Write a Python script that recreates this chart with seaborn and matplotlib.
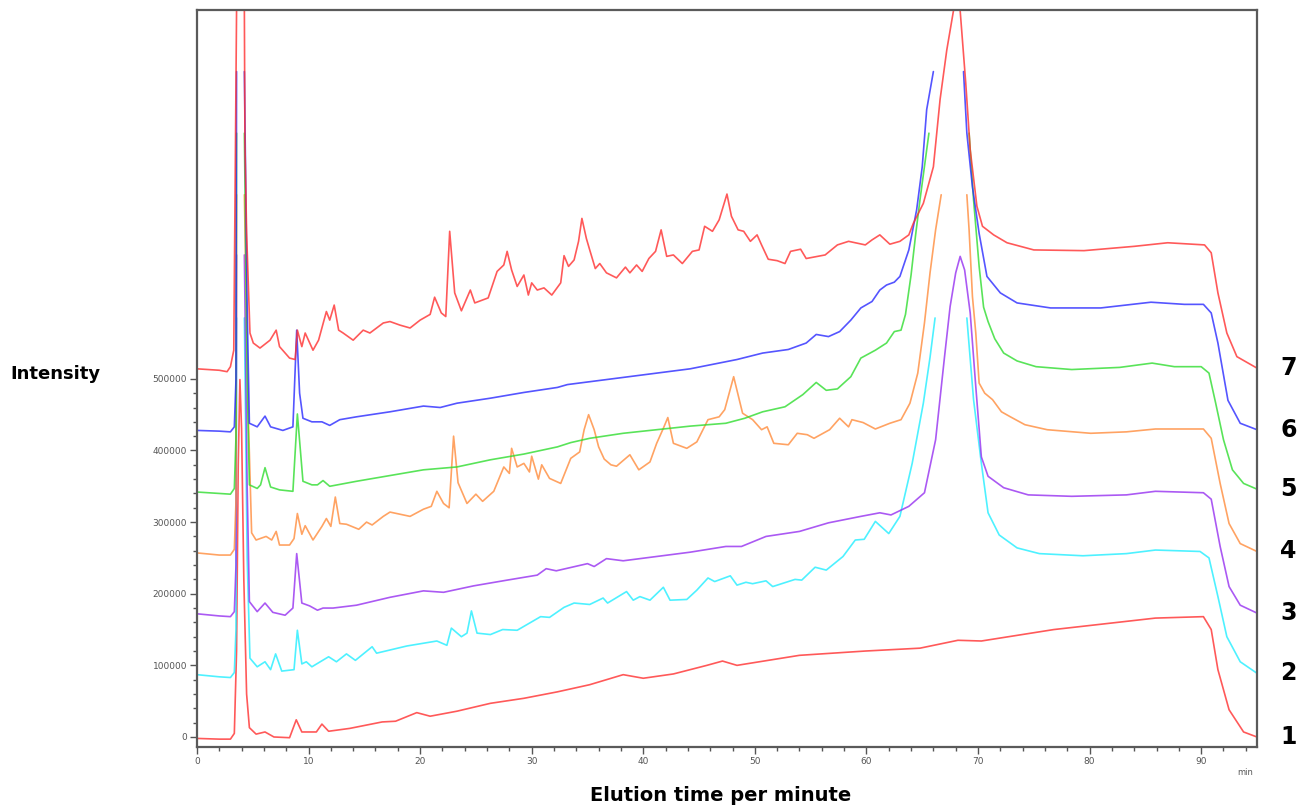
import numpy as np
import pandas as pd
import matplotlib
matplotlib.use("Agg")
import matplotlib.pyplot as plt
import seaborn as sns
from matplotlib.ticker import MultipleLocator, FixedLocator

# elution time (min) and intensity for each run; None = gap where the detector saturated
time_1 = [0, 2.0, 3.0, 3.35, 3.55, 3.7, 3.85, 4.0, 4.2, 4.45,
          4.7, 5.3, 6.1, 6.9, 8.3, 8.9, 9.4, 10.7, 11.2, 11.8,
          13.7, 16.6, 17.8, 19.7, 20.9, 23.3, 26.3, 29.3, 32.3, 35.2,
          36.7, 38.2, 40.0, 42.7, 45.7, 47.1, 48.4, 54.0, 59.9, 64.8,
          68.2, 70.3, 76.8, 85.9, 90.2, 90.9, 91.5, 92.5, 93.8, 95.0]
intensity_1 = [-2000, -3000, -3000, 5000, 120000, 380000, 499000, 430000, 220000, 60000,
               13000, 4000, 7000, 0, -1000, 24000, 7000, 7000, 18000, 8000,
               12000, 21000, 22000, 34000, 29000, 36000, 47000, 54000, 63000, 73000,
               80000, 87000, 82000, 88000, 100000, 106000, 100000, 114000, 120000, 124000,
               135000, 134000, 150000, 166000, 168000, 150000, 94000, 38000, 7000, 0]

time_2 = [0, 2.0, 3.0, 3.35, 3.5, 3.55, None, 4.25, 4.5, 4.75, 5.4, 6.1, 6.6, 7.05, 7.6,
          8.7, 9.0, 9.4, 9.8, 10.3, 11.8, 12.5, 13.4, 14.2, 15.7, 16.1, 18.8, 21.5, 22.4,
          22.8, 23.7, 24.2, 24.6, 25.1, 26.3, 27.4, 28.7, 30.8, 31.6, 32.9, 33.8, 35.2,
          36.4, 36.8, 38.5, 39.1, 39.7, 40.6, 41.8, 42.4, 43.9, 44.8, 45.8, 46.4, 47.8,
          48.4, 49.2, 49.8, 51.0, 51.6, 53.6, 54.2, 55.4, 56.4, 57.9, 59.0, 59.8, 60.8,
          62.0, 63.0, 64.1, 65.1, 65.7, 66.15, None,
          69.0, 69.6, 70.3, 70.9, 71.9, 73.5, 75.5, 79.4, 83.3, 85.9, 89.9, 90.7, 91.5,
          92.3, 93.5, 95.0]
intensity_2 = [87000, 84000, 83000, 90000, 150000, 585000, None, 585000, 250000, 110000, 98000, 105000, 94000, 116000, 92000,
               94000, 149000, 102000, 105000, 98000, 112000, 105000, 116000, 107000, 126000, 117000, 127000, 134000, 128000,
               152000, 140000, 145000, 176000, 145000, 143000, 150000, 149000, 168000, 167000, 181000, 187000, 185000,
               194000, 187000, 203000, 191000, 196000, 191000, 209000, 191000, 192000, 205000, 222000, 217000, 225000,
               212000, 216000, 214000, 218000, 210000, 220000, 219000, 237000, 233000, 252000, 275000, 276000, 301000,
               284000, 308000, 382000, 466000, 530000, 585000, None,
               585000, 471000, 382000, 313000, 282000, 264000, 256000, 253000, 256000, 261000, 259000, 250000, 196000,
               140000, 105000, 89000]

time_3 = [0, 2.0, 3.0, 3.35, 3.5, 3.55, None, 4.25, 4.5, 4.7, 5.4, 6.1, 6.8, 7.9, 8.6,
          8.94, 9.4, 10.1, 10.8, 11.3, 12.2, 14.3, 17.3, 20.3, 22.1, 24.8, 27.8, 30.5,
          31.3, 32.2, 35.0, 35.6, 36.7, 38.2, 41.2, 44.2, 47.4, 48.8, 51.0, 54.0, 56.6,
          59.5, 61.2, 62.2, 63.8, 65.2, 66.2, 67.0, 67.5, 68.0, 68.4, 68.8, 69.3, 69.8,
          70.3, 70.9, 72.3, 74.5, 78.4, 83.3, 85.9, 90.2, 90.9, 91.7, 92.5, 93.5, 95.0]
intensity_3 = [172000, 169000, 168000, 175000, 240000, 673000, None, 673000, 350000, 189000, 175000, 187000, 174000, 170000, 180000,
               256000, 187000, 183000, 177000, 180000, 180000, 184000, 195000, 204000, 202000, 211000, 219000, 226000,
               235000, 232000, 242000, 238000, 249000, 246000, 252000, 258000, 266000, 266000, 280000, 287000, 299000,
               308000, 313000, 310000, 322000, 341000, 415000, 531000, 601000, 648000, 671000, 652000, 592000, 489000,
               391000, 364000, 348000, 338000, 336000, 338000, 343000, 341000, 332000, 266000, 210000, 184000, 173000]

time_4 = [0, 2.0, 3.0, 3.35, 3.5, 3.55, None, 4.25, 4.6, 4.9, 5.3, 6.2, 6.7, 7.1, 7.4,
          8.3, 8.7, 9.0, 9.4, 9.7, 10.4, 11.2, 11.6, 12.0, 12.4, 12.8, 13.4, 14.5, 15.2,
          15.7, 16.7, 17.3, 17.9, 19.1, 20.3, 21.0, 21.5, 22.1, 22.6, 23.0, 23.4, 24.2,
          25.0, 25.6, 26.6, 27.5, 28.0, 28.2, 28.7, 29.3, 29.8, 30.0, 30.6, 30.9, 31.6,
          32.6, 33.5, 34.3, 34.7, 35.1, 35.6, 36.0, 36.5, 37.1, 37.6, 38.8, 39.6, 40.6,
          41.2, 41.8, 42.2, 42.7, 43.9, 44.8, 45.8, 46.8, 47.3, 48.1, 48.9, 49.8, 50.6,
          51.1, 51.7, 53.0, 53.8, 54.7, 55.3, 56.7, 57.6, 58.4, 58.7, 59.7, 60.8, 62.1,
          63.1, 63.9, 64.6, 65.2, 65.7, 66.2, 66.7, None,
          69.0, 69.2, 69.5, 69.8, 70.1, 70.6, 71.3, 72.1, 72.9, 74.2, 76.2, 80.1, 83.3,
          85.9, 90.2, 90.9, 91.7, 92.5, 93.5, 95.0]
intensity_4 = [257000, 254000, 254000, 262000, 330000, 757000, None, 757000, 450000, 285000, 275000, 280000, 275000, 287000, 268000,
               268000, 277000, 312000, 283000, 295000, 275000, 294000, 305000, 294000, 335000, 298000, 297000, 290000, 300000,
               296000, 308000, 314000, 312000, 308000, 318000, 322000, 343000, 326000, 320000, 420000, 355000, 326000,
               339000, 329000, 343000, 377000, 368000, 403000, 377000, 382000, 370000, 392000, 360000, 380000, 361000,
               354000, 389000, 398000, 429000, 450000, 429000, 405000, 388000, 380000, 378000, 394000, 373000, 384000,
               410000, 431000, 446000, 410000, 403000, 412000, 443000, 447000, 457000, 503000, 452000, 443000, 429000,
               433000, 410000, 408000, 424000, 422000, 417000, 429000, 445000, 433000, 443000, 439000, 430000, 438000,
               443000, 466000, 508000, 578000, 648000, 708000, 757000, None,
               757000, 708000, 615000, 564000, 494000, 480000, 471000, 454000, 447000, 436000, 429000, 424000, 426000,
               430000, 430000, 417000, 354000, 298000, 270000, 259000]

time_5 = [0, 2.0, 3.0, 3.35, 3.5, 3.55, None, 4.25, 4.5, 4.7, 5.4, 5.7, 6.1, 6.6, 7.4,
          8.6, 9.0, 9.5, 10.3, 10.8, 11.3, 11.9, 14.3, 17.3, 20.3, 23.3, 26.3, 29.3, 32.3,
          33.5, 35.2, 38.2, 41.2, 44.2, 47.4, 49.1, 50.7, 52.7, 54.3, 55.5, 56.4, 57.4,
          58.6, 59.5, 60.8, 61.8, 62.5, 63.1, 63.5, 64.0, 64.4, 64.8, 65.6, None,
          69.2, 69.6, 70.1, 70.5, 70.9, 71.5, 72.3, 73.5, 75.2, 78.4, 82.7, 85.6, 87.6,
          90.0, 90.7, 91.3, 92.0, 92.8, 93.8, 95.0]
intensity_5 = [342000, 340000, 339000, 347000, 420000, 843000, None, 843000, 500000, 352000, 347000, 352000, 376000, 349000, 345000,
               343000, 451000, 357000, 352000, 352000, 358000, 350000, 357000, 365000, 373000, 377000, 387000, 395000, 405000,
               411000, 417000, 424000, 429000, 434000, 438000, 445000, 454000, 461000, 478000, 495000, 484000, 486000,
               503000, 529000, 540000, 550000, 566000, 568000, 590000, 645000, 700000, 750000, 843000, None,
               843000, 750000, 657000, 600000, 580000, 556000, 536000, 525000, 517000, 513000, 516000, 522000, 517000,
               517000, 508000, 466000, 415000, 373000, 354000, 346000]

time_6 = [0, 2.0, 3.0, 3.35, 3.5, 3.55, None, 4.25, 4.5, 4.7, 5.4, 6.1, 6.6, 7.7, 8.6,
          8.94, 9.2, 9.5, 10.3, 11.2, 11.9, 12.8, 14.3, 17.3, 20.3, 21.8, 23.3, 26.3,
          29.3, 32.3, 33.2, 35.2, 38.2, 41.2, 44.2, 48.4, 50.7, 53.0, 54.6, 55.5, 56.6,
          57.6, 58.6, 59.5, 60.5, 61.2, 61.8, 62.5, 63.0, 63.8, 64.5, 65.0, 65.4, 66.0, None,
          68.7, 69.0, 69.5, 70.1, 70.8, 72.0, 73.5, 76.5, 81.0, 85.5, 88.5, 90.2, 90.9,
          91.5, 92.4, 93.5, 95.0]
intensity_6 = [428000, 427000, 426000, 433000, 500000, 929000, None, 929000, 600000, 438000, 433000, 448000, 433000, 428000, 433000,
               568000, 480000, 445000, 440000, 440000, 435000, 443000, 447000, 454000, 462000, 460000, 466000, 473000,
               481000, 488000, 492000, 496000, 502000, 508000, 514000, 527000, 536000, 541000, 550000, 562000, 559000,
               566000, 582000, 599000, 608000, 624000, 631000, 635000, 643000, 680000, 736000, 796000, 876000, 929000, None,
               929000, 843000, 768000, 703000, 643000, 620000, 606000, 599000, 599000, 607000, 604000, 604000, 592000,
               550000, 470000, 438000, 429000]

time_7 = [0, 2.0, 2.7, 3.0, 3.3, 3.55, None, 4.25, 4.3, 4.45, 4.75, 5.05, 5.65, 6.55, 7.1,
          7.4, 8.3, 8.8, 9.0, 9.4, 9.7, 10.4, 10.9, 11.6, 11.9, 12.3, 12.7, 13.1, 14.0,
          14.9, 15.5, 16.7, 17.3, 18.2, 19.1, 20.0, 20.9, 21.3, 21.9, 22.3, 22.65, 23.1,
          23.7, 24.5, 24.9, 26.1, 26.9, 27.5, 27.8, 28.2, 28.7, 29.3, 29.7, 30.0, 30.5,
          31.1, 31.8, 32.6, 32.9, 33.3, 33.8, 34.2, 34.5, 34.9, 35.2, 35.7, 36.1, 36.7,
          37.6, 38.4, 38.8, 39.4, 39.9, 40.5, 41.1, 41.6, 42.1, 42.7, 43.5, 44.4, 45.0,
          45.5, 46.2, 46.8, 47.5, 47.9, 48.5, 49.0, 49.6, 50.2, 50.6, 51.2, 52.0, 52.7,
          53.2, 54.1, 54.6, 56.3, 57.4, 58.4, 59.9, 60.5, 61.2, 62.1, 63.0, 63.8, 64.2,
          65.1, 66.0, 66.6, 67.2, 67.8, None,
          68.4, 68.9, 69.3, 69.9, 70.4, 71.4, 72.6, 75.0, 79.5, 84.0, 87.0, 90.3, 90.9,
          91.5, 92.3, 93.2, 95.0]
intensity_7 = [514000, 512000, 510000, 517000, 540000, 1014000, None, 1014000, 830000, 704000, 564000, 550000, 543000, 554000, 568000,
               545000, 529000, 527000, 568000, 545000, 564000, 540000, 554000, 594000, 582000, 603000, 568000, 564000, 554000,
               568000, 564000, 578000, 580000, 575000, 571000, 582000, 590000, 614000, 592000, 587000, 706000, 620000,
               595000, 624000, 606000, 613000, 650000, 659000, 678000, 652000, 629000, 645000, 617000, 634000, 624000,
               627000, 617000, 634000, 672000, 657000, 666000, 692000, 724000, 696000, 680000, 654000, 661000, 648000,
               641000, 656000, 648000, 659000, 650000, 668000, 678000, 708000, 671000, 673000, 661000, 678000, 680000,
               713000, 706000, 722000, 758000, 727000, 708000, 706000, 692000, 701000, 687000, 667000, 665000, 661000,
               678000, 681000, 668000, 673000, 687000, 692000, 687000, 694000, 701000, 688000, 692000, 701000, 717000,
               745000, 796000, 890000, 959000, 1014000, None,
               1014000, 913000, 820000, 741000, 713000, 701000, 690000, 680000, 679000, 685000, 690000, 687000, 676000,
               620000, 564000, 531000, 515000]

trace_names = ["1", "2", "3", "4", "5", "6", "7"]
trace_colors = ["#ff3030", "#22eeff", "#9630f0", "#ff8c3c", "#30dd30", "#2a2aff", "#ff3030"]
all_times = [time_1, time_2, time_3, time_4, time_5, time_6, time_7]
all_values = [intensity_1, intensity_2, intensity_3, intensity_4, intensity_5, intensity_6, intensity_7]


def to_frame(name, times, values):
    rows = []
    seg = 0
    for t, v in zip(times, values, strict=True):
        if t is None:
            seg += 1
            continue
        rows.append((name, seg, t, v))
    return pd.DataFrame(rows, columns=["trace", "segment", "time", "intensity"])


df = pd.concat([to_frame(n, t, v) for n, t, v in zip(trace_names, all_times, all_values)],
               ignore_index=True)

sns.set_style("white")
plt.rcParams["font.family"] = ["DejaVu Sans"]

fig = plt.figure(figsize=(13, 8.11), dpi=100)
ax = fig.add_axes([0.1515, 0.0789, 0.8154, 0.9088])

sns.lineplot(data=df, x="time", y="intensity", hue="trace", units="segment",
             estimator=None, sort=False, palette=dict(zip(trace_names, trace_colors)),
             linewidth=1.2, alpha=0.8, legend=False, ax=ax)

ax.set_xlim(0, 95)
ax.set_ylim(-14000, 1015000)
ax.set_xlabel("")
ax.set_ylabel("")

ax.xaxis.set_major_locator(MultipleLocator(10))
ax.xaxis.set_minor_locator(MultipleLocator(2))
ax.yaxis.set_major_locator(FixedLocator(np.arange(0, 500001, 100000)))
ax.yaxis.set_minor_locator(FixedLocator(np.arange(0, 500001, 20000)))
ax.tick_params(axis="both", which="major", direction="out", length=5, width=1,
               color="#555555", labelsize=6.5, labelcolor="#555555", pad=2)
ax.tick_params(axis="both", which="minor", direction="out", length=3, width=1,
               color="#555555")
ax.tick_params(bottom=True, left=True, top=False, right=False)
ax.tick_params(which="minor", bottom=True, left=True, top=False, right=False)

for side, sp in ax.spines.items():
    sp.set_visible(True)
    sp.set_color("#5a5a5a")
    sp.set_linewidth(1.6)

# run numbers at the right end of each trace
for name, vals in zip(trace_names, all_values):
    ax.text(1.022, vals[-1], name, transform=ax.get_yaxis_transform(),
            fontsize=17, fontweight="heavy", va="center", ha="left", color="black")

fig.text(0.008, 0.539, "Intensity", fontsize=13, fontweight="bold", va="center",
         ha="left", color="black")
fig.text(0.554, 0.019, "Elution time per minute", fontsize=14, fontweight="bold",
         va="center", ha="center", color="black")
fig.text(0.958, 0.047, "min", fontsize=6, color="#555555", va="center", ha="center")

fig.savefig("out.png", dpi=100)
